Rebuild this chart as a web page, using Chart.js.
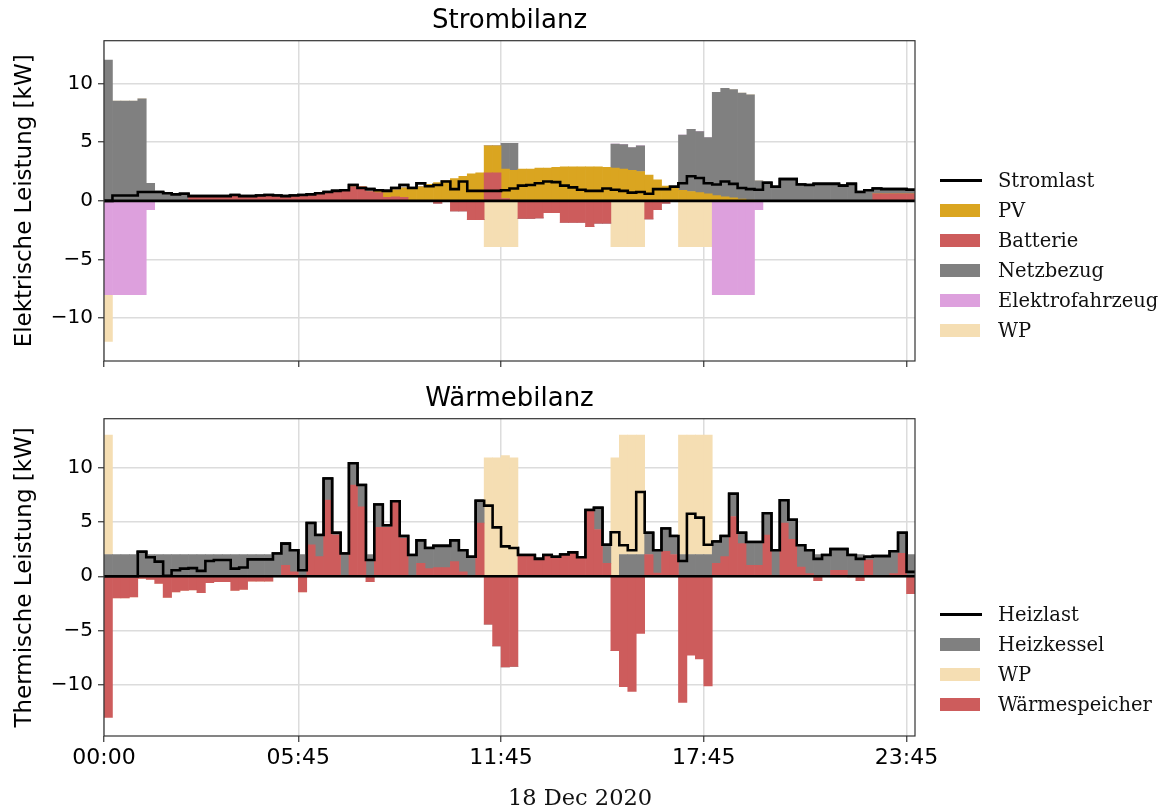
<!DOCTYPE html>
<html>
<head>
    <meta charset="utf-8">
    <title>Strombilanz / Wärmebilanz</title>
    <script src="https://cdn.jsdelivr.net/npm/chart.js"></script>
    <style>
        body { margin: 0; background: #fff; }
        #fig { position: relative; width: 1166px; height: 811px; overflow: hidden; }
        canvas { position: absolute; left: 0; }
        .legend { position: absolute; left: 940px; font-family: 'DejaVu Serif', serif; font-size: 19.5px; color: #111; }
        .legend .row { position: relative; height: 30px; line-height: 30px; white-space: nowrap; }
        .legend .patch { position: absolute; left: 0; top: 8px; width: 40px; height: 13px; }
        .legend .line { position: absolute; left: 0; top: 13px; width: 42px; height: 3px; background: #000; }
        .legend .txt { position: absolute; left: 58px; top: 0; }
        #xlabel { position: absolute; left: 0; width: 1160px; top: 782px; height: 30px; line-height: 30px;
                  text-align: center; font-family: 'DejaVu Serif', serif; font-size: 22.5px; color: #111; }
    </style>
</head>
<body>
<div id="fig">
    <canvas id="strom" width="960" height="378" style="top:0"></canvas>
    <canvas id="waerme" width="960" height="433" style="top:378px"></canvas>
    <div class="legend" id="legendStrom" style="top:166px"></div>
    <div class="legend" id="legendWaerme" style="top:600px"></div>
    <div id="xlabel"></div>
</div>

<script>
    // 15-minute steps of 18 Dec 2020
    const times = [];
    for (let h = 0; h < 24; h++) {
        for (let m = 0; m < 60; m += 15) {
            times.push(String(h).padStart(2, '0') + ':' + String(m).padStart(2, '0'));
        }
    }
    const tickTimes = ['00:00', '05:45', '11:45', '17:45', '23:45'];
    const xTitle = '18 Dec 2020';

    // Strombilanz [kW]
    const stromlast = [
        0, 0.45, 0.45, 0.45, 0.75, 0.75, 0.75, 0.65, 0.55, 0.6,
        0.4, 0.4, 0.4, 0.4, 0.4, 0.5, 0.4, 0.4, 0.45, 0.5,
        0.45, 0.4, 0.45, 0.5, 0.55, 0.65, 0.75, 0.85, 0.9, 1.35,
        1.1, 1.0, 0.9, 0.85, 1.1, 1.35, 1.1, 1.5, 1.25, 1.35,
        1.65, 1.0, 1.65, 0.85, 0.85, 0.85, 0.85, 0.9, 1.05, 1.3,
        1.35, 1.5, 1.65, 1.6, 1.3, 1.15, 0.95, 0.85, 0.85, 1.05,
        0.95, 0.85, 0.7, 0.75, 0.6, 1.0, 1.0, 1.2, 1.5, 2.1,
        1.95, 1.5, 1.4, 1.65, 1.45, 1.1, 1.0, 0.95, 1.55, 1.2,
        1.85, 1.85, 1.4, 1.35, 1.45, 1.45, 1.45, 1.3, 1.45, 0.75,
        0.9, 1.05, 1.0, 1.0, 1.0, 0.95
    ];
    const pv = [
        0, 0, 0, 0, 0, 0, 0, 0, 0, 0,
        0, 0, 0, 0, 0, 0, 0, 0, 0, 0,
        0, 0, 0, 0, 0, 0, 0, 0, 0, 0,
        0, 0, 0.2, 0.4, 0.6, 0.8, 1.0, 1.2, 1.4, 1.55,
        1.7, 1.9, 2.1, 2.3, 2.4, 2.3, 2.3, 2.5, 2.6, 2.7,
        2.7, 2.8, 2.8, 2.85, 2.9, 2.9, 2.9, 2.9, 2.9, 2.85,
        2.8, 2.7, 2.6, 2.5, 2.2, 1.8, 1.25, 1.1, 0.9, 0.8,
        0.7, 0.6, 0.45, 0.35, 0.25, 0.15, 0.05, 0, 0, 0,
        0, 0, 0, 0, 0, 0, 0, 0, 0, 0,
        0, 0, 0, 0, 0, 0
    ];
    const batterie = [
        0, 0, 0, 0, 0, 0, 0, 0, 0, 0,
        0.4, 0.4, 0.4, 0.4, 0.4, 0.5, 0.4, 0.4, 0.45, 0.5,
        0.45, 0.4, 0.45, 0.5, 0.55, 0.65, 0.75, 0.85, 0.9, 1.2,
        1.2, 0.8, 0.7, 0.3, 0.35, 0.3, 0, 0, 0, -0.2,
        0, -0.85, -0.85, -1.6, -1.6, 2.4, 2.4, 0.2, 0, -1.5,
        -1.5, -1.45, -1.0, -1.0, -1.85, -1.85, -1.85, -2.2, -1.9, -1.9,
        0, 0, 0, 0, -1.55, -0.75, -0.2, 0, 0, 0,
        0, 0, 0, 0, 0, 0, 0, 0, 0, 0,
        0, 0, 0, 0, 0, 0, 0, 0, 0, 0,
        0, 0.6, 0.6, 0.6, 0.6, 0.6
    ];
    const netzbezug = [
        12, 8.5, 8.5, 8.5, 8.7, 1.5, 0.75, 0.65, 0.55, 0.6,
        0, 0, 0, 0, 0, 0, 0, 0, 0, 0,
        0, 0, 0, 0, 0, 0, 0, 0, 0, 0,
        0, 0, 0, 0, 0, 0, 0, 0, 0, 0,
        0, 0, 0, 0, 0, 0, 0, 2.2, 2.3, 0,
        0, 0, 0, 0, 0, 0, 0, 0, 0, 0,
        2.05, 2.1, 1.95, 2.2, 0, 0, 0, 0.1, 4.7, 5.3,
        5.2, 4.8, 8.8, 9.25, 9.25, 9.05, 9.0, 1.7, 1.55, 1.2,
        1.85, 1.85, 1.4, 1.35, 1.45, 1.45, 1.45, 1.3, 1.45, 0.75,
        0.9, 0.45, 0.4, 0.4, 0.4, 0.35
    ];
    const elektrofahrzeug = [
        -8, -8, -8, -8, -8, -0.75, 0, 0, 0, 0,
        0, 0, 0, 0, 0, 0, 0, 0, 0, 0,
        0, 0, 0, 0, 0, 0, 0, 0, 0, 0,
        0, 0, 0, 0, 0, 0, 0, 0, 0, 0,
        0, 0, 0, 0, 0, 0, 0, 0, 0, 0,
        0, 0, 0, 0, 0, 0, 0, 0, 0, 0,
        0, 0, 0, 0, 0, 0, 0, 0, 0, 0,
        0, 0, -8, -8, -8, -8, -8, -0.75, 0, 0,
        0, 0, 0, 0, 0, 0, 0, 0, 0, 0,
        0, 0, 0, 0, 0, 0
    ];
    const wpStrom = [
        -4, 0, 0, 0, 0, 0, 0, 0, 0, 0,
        0, 0, 0, 0, 0, 0, 0, 0, 0, 0,
        0, 0, 0, 0, 0, 0, 0, 0, 0, 0,
        0, 0, 0, 0, 0, 0, 0, 0, 0, 0,
        0, 0, 0, 0, 0, -3.9, -3.9, -3.9, -3.9, 0,
        0, 0, 0, 0, 0, 0, 0, 0, 0, 0,
        -3.9, -3.9, -3.9, -3.9, 0, 0, 0, 0, -3.9, -3.9,
        -3.9, -3.9, 0, 0, 0, 0, 0, 0, 0, 0,
        0, 0, 0, 0, 0, 0, 0, 0, 0, 0,
        0, 0, 0, 0, 0, 0
    ];

    // Wärmebilanz [kW]
    const heizlast = [
        0, 0, 0, 0, 2.25, 1.75, 1.35, 0.05, 0.55, 0.7,
        0.75, 0.5, 1.4, 1.5, 1.5, 0.7, 0.8, 1.55, 1.55, 1.55,
        2.1, 3.0, 2.4, 0.55, 4.9, 3.8, 9.0, 4.0, 2.1, 10.4,
        8.4, 1.5, 6.6, 4.7, 6.9, 3.7, 1.95, 3.3, 2.6, 2.8,
        2.8, 3.3, 2.4, 1.8, 6.95, 6.5, 4.5, 2.75, 2.6, 1.95,
        1.95, 1.6, 1.95, 1.8, 2.0, 2.2, 1.75, 6.1, 6.3, 2.9,
        4.05, 2.85, 2.4, 7.75, 4.0, 2.4, 4.4, 3.7, 1.4, 5.75,
        5.4, 2.9, 3.2, 3.7, 7.6, 4.0, 3.15, 3.15, 5.8, 2.4,
        7.0, 5.2, 2.85, 2.4, 1.6, 1.95, 2.5, 2.5, 1.95, 1.6,
        1.8, 1.85, 1.85, 2.3, 4.0, 0.4
    ];
    const heizkessel = [
        2, 2, 2, 2, 2.25, 2, 2, 2, 2, 2,
        2, 2, 2, 2, 2, 2, 2, 2, 2, 2,
        2.1, 2, 2, 2, 2, 2, 2, 0.2, 2.1, 2,
        2, 2, 2.1, 0.2, 0.1, 0.2, 1.95, 2.1, 1.9, 2,
        2, 1.95, 2, 1.8, 2.05, 0, 0, 0, 0, 0,
        0, 0, 0, 0, 0, 0, 0, 0.1, 2.0, 1.7,
        0, 2, 2, 2, 2, 2.1, 2.1, 1.7, 2, 2,
        2, 2, 2, 1.9, 2.1, 1.0, 2.15, 2.15, 2, 2.4,
        2.1, 1.8, 2, 2.15, 2, 1.95, 1.95, 1.95, 2, 2,
        0.3, 1.85, 1.85, 2.05, 1.9, 2
    ];
    const wpWaerme = [
        11, 0, 0, 0, 0, 0, 0, 0, 0, 0,
        0, 0, 0, 0, 0, 0, 0, 0, 0, 0,
        0, 0, 0, 0, 0, 0, 0, 0, 0, 0,
        0, 0, 0, 0, 0, 0, 0, 0, 0, 0,
        0, 0, 0, 0, 0, 10.9, 10.9, 11.1, 10.9, 0,
        0, 0, 0, 0, 0, 0, 0, 0, 0, 0,
        10.9, 11, 11, 11, 0, 0, 0, 0, 11, 11,
        11, 11, 0, 0, 0, 0, 0, 0, 0, 0,
        0, 0, 0, 0, 0, 0, 0, 0, 0, 0,
        0, 0, 0, 0, 0, 0
    ];
    const waermespeicher = [
        -13, -2, -2, -1.9, -0.2, -0.3, -0.65, -1.95, -1.45, -1.3,
        -1.25, -1.5, -0.6, -0.5, -0.5, -1.3, -1.2, -0.45, -0.45, -0.45,
        0, 1.0, 0.4, -1.45, 2.9, 1.8, 7.0, 3.8, 0, 8.4,
        6.4, -0.5, 4.5, 4.5, 6.8, 3.5, 0, 1.2, 0.7, 0.8,
        0.8, 1.35, 0.4, 0, 4.9, -4.4, -6.4, -8.35, -8.3, 1.95,
        1.95, 1.6, 1.95, 1.8, 2.0, 2.2, 1.75, 6.0, 4.3, 1.2,
        -6.85, -10.15, -10.6, -5.25, 2.0, 0.3, 2.3, 2.0, -11.6, -7.25,
        -7.6, -10.1, 1.2, 1.8, 5.5, 3.0, 1.0, 1.0, 3.8, 0,
        4.9, 3.4, 0.85, 0.25, -0.4, 0, 0.55, 0.55, -0.05, -0.4,
        1.5, 0, 0, 0.25, 2.1, -1.6
    ];

    Chart.defaults.font.family = "'DejaVu Sans', sans-serif";
    Chart.defaults.color = '#000';

    function bars(label, values, color) {
        return {
            type: 'bar', label: label, stack: 'bilanz',
            data: values.map((v, i) => ({ x: i + 0.5, y: v })),
            backgroundColor: color, borderWidth: 0,
            barPercentage: 1, categoryPercentage: 1
        };
    }

    function stepLine(label, values) {
        const pts = values.map((v, i) => ({ x: i, y: v }));
        pts.push({ x: values.length, y: values[values.length - 1] });
        return {
            type: 'line', label: label, stack: 'last', data: pts,
            borderColor: '#000', borderWidth: 2.6, pointRadius: 0,
            stepped: true, fill: false
        };
    }

    const gridOpts = { color: '#dcdcdc', lineWidth: 1.5, tickLength: 6, tickColor: '#333', tickWidth: 1.2, offset: false };

    function makeScales(yMin, yMax, yTitle, showX) {
        return {
            x: {
                type: 'linear', min: 0, max: times.length, offset: false, stacked: true, z: 1,
                afterBuildTicks: s => { s.ticks = tickTimes.map(t => ({ value: times.indexOf(t) })); },
                afterFit: s => { s.height = showX ? 75 : 16; },
                grid: gridOpts,
                border: { display: false },
                ticks: { font: { size: 22 }, maxRotation: 0, autoSkip: false, padding: 3,
                         callback: v => showX ? times[v] : '' }
            },
            y: {
                min: yMin, max: yMax, stacked: true, z: 1,
                afterFit: s => { s.width = 104; },
                grid: gridOpts,
                border: { display: false },
                ticks: { stepSize: 5, includeBounds: false, font: { size: 20 }, padding: 5,
                         callback: v => String(v).replace('-', '\u2212') },
                title: { display: true, text: yTitle, font: { size: 23 }, padding: { top: 11, bottom: 0 } }
            }
        };
    }

    // zero line, frame and the load line on top of the grid
    const framePlugin = {
        id: 'frame',
        afterDraw(chart) {
            const ctx = chart.ctx, a = chart.chartArea;
            const y0 = chart.scales.y.getPixelForValue(0);
            ctx.save();
            ctx.beginPath();
            ctx.rect(a.left, a.top, a.right - a.left, a.bottom - a.top);
            ctx.clip();
            ctx.strokeStyle = '#000';
            ctx.lineWidth = 2.6;
            ctx.beginPath();
            ctx.moveTo(a.left, y0);
            ctx.lineTo(a.right, y0);
            ctx.stroke();
            chart.getDatasetMeta(chart.data.datasets.length - 1).controller.draw();
            ctx.restore();
            ctx.save();
            ctx.strokeStyle = '#333';
            ctx.lineWidth = 1.2;
            ctx.strokeRect(a.left, a.top, a.right - a.left, a.bottom - a.top);
            ctx.restore();
        }
    };

    function makeChart(id, title, datasets, scales) {
        return new Chart(document.getElementById(id), {
            data: { datasets: datasets },
            options: {
                responsive: false, animation: false, devicePixelRatio: 1,
                layout: { padding: { left: 0, right: 45, top: 0, bottom: 0 } },
                plugins: {
                    legend: { display: false },
                    tooltip: { enabled: false },
                    title: { display: true, text: title, fullSize: false, color: '#000',
                             font: { size: 26, weight: 'normal' }, padding: { top: 5.5, bottom: 4 } }
                },
                scales: scales
            },
            plugins: [framePlugin]
        });
    }

    const stromChart = makeChart('strom', 'Strombilanz', [
        bars('Batterie', batterie, '#CD5C5C'),
        bars('PV', pv, '#DAA520'),
        bars('Netzbezug', netzbezug, '#808080'),
        bars('Elektrofahrzeug', elektrofahrzeug, '#DDA0DD'),
        bars('WP', wpStrom, '#F5DEB3'),
        stepLine('Stromlast', stromlast)
    ], makeScales(-13.66, 13.66, 'Elektrische Leistung [kW]', false));

    const waermeChart = makeChart('waerme', 'Wärmebilanz', [
        bars('Wärmespeicher', waermespeicher, '#CD5C5C'),
        bars('Heizkessel', heizkessel, '#808080'),
        bars('WP', wpWaerme, '#F5DEB3'),
        stepLine('Heizlast', heizlast)
    ], makeScales(-14.7, 14.5, 'Thermische Leistung [kW]', true));

    // figure-level x label (centred on the whole figure, as in the original)
    document.getElementById('xlabel').textContent = xTitle;

    function buildLegend(elId, chart, order) {
        const el = document.getElementById(elId);
        order.forEach(label => {
            const ds = chart.data.datasets.find(d => d.label === label);
            const row = document.createElement('div');
            row.className = 'row';
            const handle = document.createElement('span');
            if (ds.type === 'line') {
                handle.className = 'line';
            } else {
                handle.className = 'patch';
                handle.style.background = ds.backgroundColor;
            }
            const txt = document.createElement('span');
            txt.className = 'txt';
            txt.textContent = label;
            row.appendChild(handle);
            row.appendChild(txt);
            el.appendChild(row);
        });
    }

    buildLegend('legendStrom', stromChart, ['Stromlast', 'PV', 'Batterie', 'Netzbezug', 'Elektrofahrzeug', 'WP']);
    buildLegend('legendWaerme', waermeChart, ['Heizlast', 'Heizkessel', 'WP', 'Wärmespeicher']);
</script>
</body>
</html>
